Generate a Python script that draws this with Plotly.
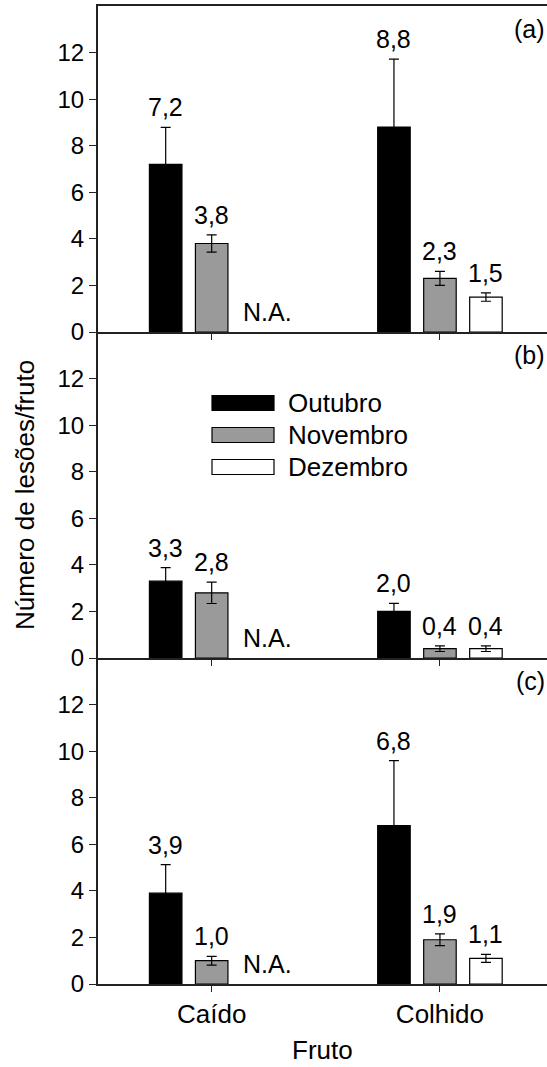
import plotly.graph_objects as go
from plotly.subplots import make_subplots

# ---- data ----
categories = ["Caído", "Colhido"]
series_names = ["Outubro", "Novembro", "Dezembro"]
panel_labels = ["(a)", "(b)", "(c)"]

# panel (a)
a_out = [7.2, 8.8]
a_nov = [3.8, 2.3]
a_dez = [None, 1.5]
a_out_err = [1.59, 2.92]
a_nov_err = [0.37, 0.30]
a_dez_err = [None, 0.18]

# panel (b)
b_out = [3.3, 2.0]
b_nov = [2.8, 0.4]
b_dez = [None, 0.4]
b_out_err = [0.58, 0.35]
b_nov_err = [0.46, 0.12]
b_dez_err = [None, 0.12]

# panel (c)
c_out = [3.9, 6.8]
c_nov = [1.0, 1.9]
c_dez = [None, 1.1]
c_out_err = [1.23, 2.79]
c_nov_err = [0.19, 0.25]
c_dez_err = [None, 0.17]

y_ticks = [0, 2, 4, 6, 8, 10, 12]
na_text = "N.A."

panels = [
    ([a_out, a_nov, a_dez], [a_out_err, a_nov_err, a_dez_err]),
    ([b_out, b_nov, b_dez], [b_out_err, b_nov_err, b_dez_err]),
    ([c_out, c_nov, c_dez], [c_out_err, c_nov_err, c_dez_err]),
]

# ---- style ----
colors = ["#000000", "#9a9a9a", "#ffffff"]
FONT = "Liberation Sans, Arial, Helvetica, sans-serif"
W, H = 547, 1067
ML, MR, MT, MB = 98, 0, 6, 83
BARGAP = 0.3955
BARGROUPGAP = 0.293
slot = (1 - BARGAP) / 3
bar_w = slot * (1 - BARGROUPGAP)

def fmt(v):
    return f"{v:.1f}".replace(".", ",")

fig = make_subplots(rows=3, cols=1, shared_xaxes=True, vertical_spacing=0)

annotations = []
for p, (vals, errs) in enumerate(panels):
    row = p + 1
    yref = "y" if row == 1 else f"y{row}"
    xref = "x" if row == 1 else f"x{row}"
    for j, name in enumerate(series_names):
        fig.add_trace(go.Bar(
            x=categories, y=vals[j], name=name,
            marker=dict(color=colors[j], line=dict(color="black", width=1.2)),
            error_y=dict(type="data", array=errs[j], visible=True,
                         color="black", thickness=1.2, width=5),
            showlegend=False, offsetgroup=str(j),
        ), row=row, col=1)
        for i, cat in enumerate(categories):
            xpos = i + (j - 1) * slot
            v = vals[j][i]
            if v is None:
                annotations.append(dict(
                    x=xpos - bar_w / 2, y=0, xref=xref, yref=yref,
                    text=na_text, showarrow=False, xanchor="left",
                    yanchor="bottom", yshift=4,
                    font=dict(family=FONT, size=25, color="black")))
            else:
                annotations.append(dict(
                    x=xpos, y=v + errs[j][i], xref=xref, yref=yref,
                    text=fmt(v), showarrow=False, xanchor="center",
                    yanchor="bottom", yshift=4,
                    font=dict(family=FONT, size=25, color="black")))
    # panel label
    dom_top = 1 - p / 3
    annotations.append(dict(
        x=1, y=dom_top, xref="paper", yref="paper", text=panel_labels[p],
        showarrow=False, xanchor="right", yanchor="top", yshift=-7,
        font=dict(family=FONT, size=25, color="black")))

# axis titles
plot_h = H - MT - MB
plot_w = W - ML - MR
annotations.append(dict(
    x=(25 - ML) / plot_w, y=0.5, xref="paper", yref="paper",
    text="Número de lesões/fruto", textangle=-90, showarrow=False,
    xanchor="center", yanchor="middle",
    font=dict(family=FONT, size=26, color="black")))
annotations.append(dict(
    x=0.5, y=-(1050 - (H - MB)) / plot_h, xref="paper", yref="paper",
    text="Fruto", showarrow=False, xanchor="center", yanchor="middle",
    font=dict(family=FONT, size=26, color="black")))

# legend (drawn manually for wide swatches)
def px_x(x):
    return (x - ML) / plot_w

def px_y(y):
    return (H - MB - y) / plot_h

shapes = []
leg_y0 = 403
leg_dy = 32
for j, name in enumerate(series_names):
    cy = leg_y0 + j * leg_dy
    shapes.append(dict(
        type="rect", xref="paper", yref="paper",
        x0=px_x(212), x1=px_x(274), y0=px_y(cy - 7.5), y1=px_y(cy + 7.5),
        fillcolor=colors[j], line=dict(color="black", width=1.2)))
    annotations.append(dict(
        x=px_x(286), y=px_y(cy), xref="paper", yref="paper", text=name,
        showarrow=False, xanchor="left", yanchor="middle",
        font=dict(family=FONT, size=26, color="black")))

fig.update_layout(
    width=W, height=H,
    margin=dict(l=ML, r=MR, t=MT, b=MB),
    paper_bgcolor="white", plot_bgcolor="white",
    barmode="group", bargap=BARGAP, bargroupgap=BARGROUPGAP,
    annotations=annotations, shapes=shapes,
    font=dict(family=FONT, size=24, color="black"),
)

for r in range(1, 4):
    fig.update_yaxes(
        range=[0, 14], tickvals=y_ticks, ticks="outside", ticklen=7,
        tickwidth=1.2, tickcolor="#222", showline=True, linecolor="#222",
        linewidth=2, showgrid=False, zeroline=False,
        tickfont=dict(family=FONT, size=24, color="black"), row=r, col=1)
    fig.update_xaxes(
        type="category", range=[-0.498, 1.469], ticks="outside", ticklen=6,
        tickwidth=1.2, tickcolor="#222", showline=True, linecolor="#222",
        linewidth=1.5, mirror=(r == 1), showgrid=False, zeroline=False,
        showticklabels=(r == 3),
        tickfont=dict(family=FONT, size=26, color="black"), row=r, col=1)

fig.write_html(
    "out.html",
    config={"displayModeBar": False},
    post_script="document.body.style.margin='0';document.body.style.overflow='hidden';",
)
